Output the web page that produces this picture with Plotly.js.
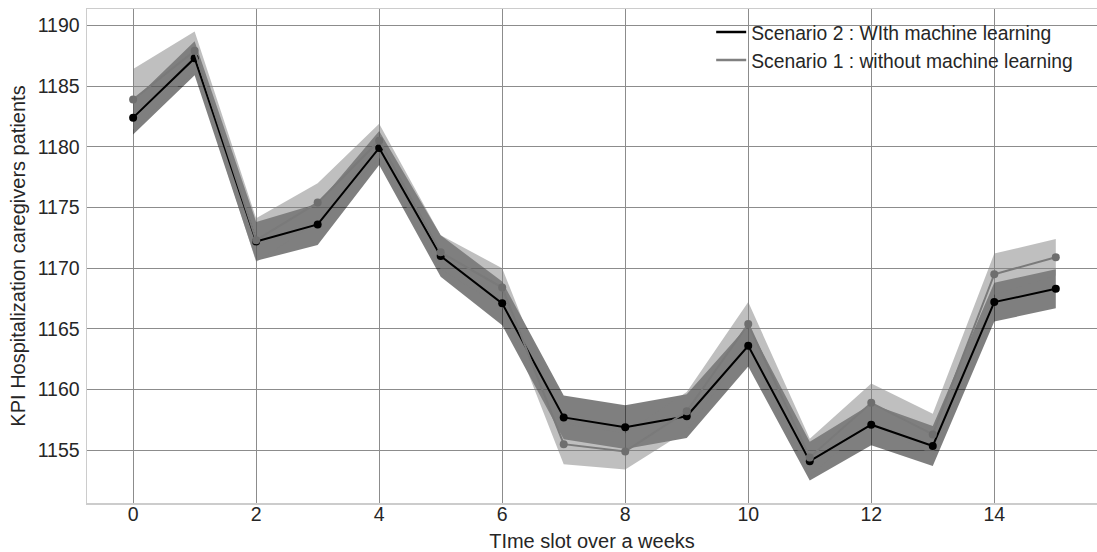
<!DOCTYPE html>
<html>
<head>
<meta charset="utf-8">
<script src="https://cdn.plot.ly/plotly-3.0.1.min.js"></script>
<style>html,body{margin:0;padding:0;background:#fff;overflow:hidden}#chart{width:1097px;height:552px}</style>
</head>
<body>
<div id="chart"></div>
<script>
const timeSlots = [0,1,2,3,4,5,6,7,8,9,10,11,12,13,14,15];

const s2Mean  = [1182.4,1187.3,1172.2,1173.6,1179.9,1171.0,1167.1,1157.7,1156.9,1157.8,1163.6,1154.1,1157.1,1155.35,1167.2,1168.3];
const s2Lower = [1181.0,1185.9,1170.6,1171.9,1178.5,1169.3,1165.3,1155.9,1155.1,1156.0,1161.9,1152.5,1155.4,1153.7,1165.6,1166.7];
const s2Upper = [1183.8,1188.7,1173.8,1175.3,1181.3,1172.7,1168.9,1159.5,1158.7,1159.6,1165.3,1155.7,1158.8,1157.0,1168.8,1169.9];

const s1Mean  = [1183.9,1187.9,1172.3,1175.4,1180.5,1171.3,1168.4,1155.5,1154.9,1158.2,1165.4,1154.4,1158.9,1156.3,1169.5,1170.9];
const s1Lower = [1181.4,1186.3,1170.5,1173.8,1179.1,1169.9,1166.8,1153.85,1153.4,1156.6,1163.6,1152.85,1157.3,1154.6,1167.8,1169.4];
const s1Upper = [1186.4,1189.5,1174.1,1177.0,1181.9,1172.7,1170.0,1157.15,1156.4,1159.8,1167.2,1155.95,1160.5,1158.0,1171.2,1172.4];

const xTicks = [0,2,4,6,8,10,12,14];
const yTicks = [1155,1160,1165,1170,1175,1180,1185,1190];

const s2Name = "Scenario 2 : WIth machine learning";
const s1Name = "Scenario 1 : without machine learning";

const s2Color = '#000000';
const s1LineColor = '#7a7a7a';
const s1MarkerColor = '#6e6e6e';

const traces = [
  {x: timeSlots, y: s2Lower, mode: 'lines', line: {width: 0, color: 'rgba(0,0,0,0)'}, showlegend: false, hoverinfo: 'skip'},
  {x: timeSlots, y: s2Upper, mode: 'lines', line: {width: 0, color: 'rgba(0,0,0,0)'}, fill: 'tonexty', fillcolor: 'rgba(0,0,0,0.5)', showlegend: false, hoverinfo: 'skip'},
  {x: timeSlots, y: s1Lower, mode: 'lines', line: {width: 0, color: 'rgba(0,0,0,0)'}, showlegend: false, hoverinfo: 'skip'},
  {x: timeSlots, y: s1Upper, mode: 'lines', line: {width: 0, color: 'rgba(0,0,0,0)'}, fill: 'tonexty', fillcolor: 'rgba(128,128,128,0.5)', showlegend: false, hoverinfo: 'skip'},
  {x: timeSlots, y: s2Mean, name: s2Name, mode: 'lines+markers', line: {color: s2Color, width: 2}, marker: {color: s2Color, size: 8}, showlegend: false},
  {x: timeSlots, y: s1Mean, name: s1Name, mode: 'lines+markers', line: {color: s1LineColor, width: 2}, marker: {color: s1MarkerColor, size: 8}, showlegend: false},
  // legend-only entries (line samples, no markers)
  {x: [null], y: [null], name: s2Name, mode: 'lines', line: {color: s2Color, width: 2.5}, showlegend: true},
  {x: [null], y: [null], name: s1Name, mode: 'lines', line: {color: '#808080', width: 2.5}, showlegend: true}
];

const fam = '"Liberation Sans", Arial, sans-serif';
const txt = '#262626';

const layout = {
  width: 1097, height: 552,
  margin: {l: 87, r: 0, t: 9, b: 49},
  paper_bgcolor: '#ffffff', plot_bgcolor: '#ffffff',
  font: {family: fam, size: 19.5, color: txt},
  showlegend: true,
  legend: {x: 0.618, y: 0.992, xanchor: 'left', yanchor: 'top', bgcolor: 'rgba(0,0,0,0)',
           traceorder: 'normal', font: {family: fam, size: 19.3, color: txt}, tracegroupgap: 0},
  xaxis: {
    range: [-0.75, 15.67], tickvals: xTicks, ticktext: xTicks.map(String),
    showgrid: true, gridcolor: '#8c8c8c', gridwidth: 1, zeroline: false,
    showline: true, linecolor: '#cccccc', linewidth: 1.5, mirror: true,
    ticks: '', ticklen: 0, ticklabelstandoff: -7, tickfont: {family: fam, size: 19.5, color: txt},
    title: {text: 'TIme slot over a weeks', font: {family: fam, size: 20, color: txt}, standoff: 10}
  },
  yaxis: {
    range: [1150.65, 1191.35], tickvals: yTicks, ticktext: yTicks.map(String),
    showgrid: true, gridcolor: '#8c8c8c', gridwidth: 1, zeroline: false,
    showline: true, linecolor: '#cccccc', linewidth: 1.5, mirror: true,
    ticks: '', ticklen: 0, ticklabelstandoff: 2, tickfont: {family: fam, size: 19.5, color: txt},
    title: {text: 'KPI Hospitalization caregivers patients', font: {family: fam, size: 20, color: txt}, standoff: 6}
  }
};

Plotly.newPlot('chart', traces, layout, {displayModeBar: false, staticPlot: true});
</script>
</body>
</html>
